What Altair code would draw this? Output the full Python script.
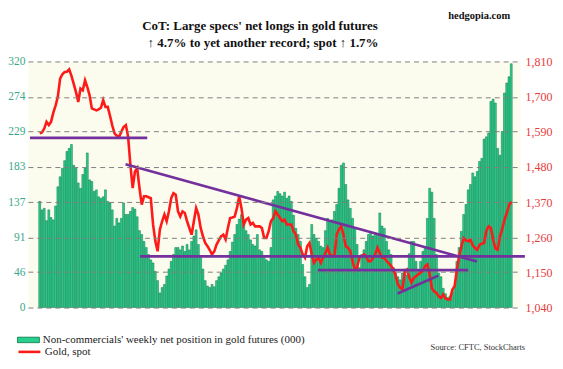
import altair as alt
import pandas as pd

# Non-commercials' weekly net position in gold futures (000), weekly from Jul 3, 2012
net_longs = [
    138, 127, 129, 113, 127, 117, 114, 132, 157, 170,
    181, 191, 203, 207, 212, 185, 181, 162, 155, 173,
    181, 201, 166, 164, 151, 153, 144, 142, 144, 153,
    138, 136, 127, 106, 116, 110, 116, 136, 121, 121,
    125, 130, 128, 118, 100, 95, 86, 78, 69, 62,
    58, 47, 35, 19, 26, 30, 41, 50, 60, 69,
    78, 78, 75, 80, 73, 82, 75, 86, 93, 101,
    82, 65, 50, 35, 28, 26, 30, 27, 35, 40,
    45, 50, 55, 62, 73, 85, 95, 108, 115, 121,
    112, 100, 95, 88, 82, 80, 95, 75, 73, 65,
    62, 60, 78, 140, 145, 151, 148, 145, 150, 142,
    145, 138, 120, 103, 95, 86, 56, 40, 26, 30,
    108, 95, 90, 86, 80, 78, 100, 116, 112, 114,
    125, 134, 155, 185, 188, 160, 140, 129, 116, 103,
    82, 52, 69, 75, 86, 95, 99, 93, 97, 95,
    123, 106, 103, 86, 75, 69, 52, 45, 40, 36,
    45, 50, 42, 70, 86, 86, 60, 47, 60, 73,
    78, 116, 155, 150, 116, 69, 45, 40, 25, 18,
    13, 15, 20, 28, 60, 78, 99, 121, 134, 153,
    160, 175, 170, 177, 190, 194, 219, 222, 227, 268,
    271, 266, 207, 198, 229, 279, 292, 300, 317,
]

# Gold, spot ($/oz), same weeks
gold_spot = [
    1585, 1588, 1600, 1621, 1611, 1621, 1650, 1672, 1700, 1756,
    1770, 1777, 1778, 1785, 1765, 1740, 1714, 1683, 1725, 1720,
    1751, 1730, 1704, 1663, 1660, 1657, 1660, 1665, 1689, 1668,
    1668, 1640, 1610, 1585, 1578, 1574, 1590, 1605, 1611, 1574,
    1486, 1414, 1465, 1476, 1414, 1362, 1388, 1388, 1385, 1382,
    1300, 1248, 1216, 1284, 1310, 1331, 1310, 1341, 1382, 1398,
    1393, 1341, 1325, 1341, 1336, 1310, 1289, 1268, 1310, 1351,
    1331, 1289, 1263, 1242, 1232, 1220, 1206, 1216, 1237, 1250,
    1263, 1268, 1253, 1289, 1320, 1322, 1325, 1351, 1388, 1351,
    1300, 1315, 1320, 1300, 1305, 1294, 1294, 1294, 1289, 1258,
    1258, 1279, 1310, 1320, 1341, 1331, 1320, 1310, 1315, 1300,
    1300, 1300, 1279, 1268, 1237, 1227, 1206, 1196, 1232, 1242,
    1206, 1180, 1190, 1196, 1180, 1196, 1210, 1227, 1206, 1201,
    1201, 1268, 1285, 1294, 1268, 1232, 1227, 1216, 1185, 1159,
    1164, 1196, 1200, 1206, 1201, 1185, 1185, 1195, 1206, 1227,
    1211, 1196, 1196, 1185, 1178, 1170, 1160, 1140, 1113, 1102,
    1097, 1150, 1158, 1135, 1118, 1133, 1138, 1144, 1150, 1154,
    1170, 1175, 1144, 1100, 1090, 1086, 1075, 1070, 1081, 1068,
    1065, 1065, 1096, 1107, 1158, 1200, 1231, 1257, 1250, 1247,
    1252, 1235, 1226, 1221, 1236, 1240, 1242, 1280, 1294, 1289,
    1252, 1225, 1221, 1262, 1285, 1314, 1335, 1360, 1371,
]

first_week = "2012-07-03"

left_ticks = [0, 46, 91, 137, 183, 229, 274, 320]
right_ticks = [1040, 1150, 1260, 1370, 1480, 1590, 1700, 1810]
x_tick_dates = [
    (2012, 7, 3), (2013, 1, 1), (2013, 7, 2), (2013, 12, 31), (2014, 7, 1),
    (2014, 12, 30), (2015, 6, 30), (2015, 12, 29), (2016, 6, 28),
]
x_domain_dates = [(2012, 6, 12), (2016, 7, 10)]

# Hand-drawn trend lines (in gold $ units)
trend_start = ["2012-06-03", "2013-03-25", "2013-05-09", "2014-11-09", "2015-07-13"]
trend_end = ["2013-05-31", "2016-03-14", "2016-08-09", "2016-02-16", "2015-11-16"]
trend_from = [1571, 1488, 1200, 1157, 1084]
trend_to = [1571, 1184, 1200, 1157, 1140]

title_lines = ["CoT: Large specs' net longs in gold futures",
               "\u2191 4.7% to yet another record; spot \u2191 1.7%"]
bar_label = "Non-commercials' weekly net position in gold futures (000)"
line_label = "Gold, spot"
site = "hedgopia.com"
source = "Source: CFTC, StockCharts"

SERIF = "Liberation Serif"
GREEN = "#27cf8c"
GREEN_EDGE = "#0b7347"
RED = "#ff1a1a"
PURPLE = "#74309c"

df = pd.DataFrame({
    "date": pd.date_range(first_week, periods=len(net_longs), freq="7D"),
    "net": net_longs,
    "gold": gold_spot,
    "s_bar": bar_label,
    "s_line": line_label,
})
trends = pd.DataFrame({
    "d1": pd.to_datetime(trend_start),
    "d2": pd.to_datetime(trend_end),
    "v1": trend_from,
    "v2": trend_to,
})

def dt(t):
    return alt.DateTime(year=t[0], month=t[1], date=t[2])

x_scale = alt.Scale(domain=[dt(d) for d in x_domain_dates])
gold_scale = alt.Scale(domain=[1040, 1810], nice=False, zero=False)
gold_axis = alt.Axis(orient="right", values=right_ticks, grid=False,
                     labelExpr="format(datum.value, ',')",
                     labelColor="#e63b3b", labelFontSize=12, labelPadding=5,
                     title=None, labelFont=SERIF)

bars = alt.Chart(df).mark_bar(width=1.9, stroke=GREEN_EDGE, strokeWidth=0.5).encode(
    x=alt.X("date:T", scale=x_scale,
            axis=alt.Axis(values=[dt(d) for d in x_tick_dates], format="%b-%y",
                          labelColor="#27335a", labelFontSize=12, labelPadding=5,
                          grid=False, title=None, labelFlush=False, labelFont=SERIF)),
    y=alt.Y("net:Q", scale=alt.Scale(domain=[0, 320], nice=False),
            axis=alt.Axis(orient="left", values=left_ticks, grid=True, gridDash=[5, 4],
                          gridColor="#7f7f7f", gridWidth=1, labelColor="#3aa987",
                          labelFontSize=11.5, labelPadding=3, title=None, zindex=1,
                          labelFont=SERIF)),
    fill=alt.Fill("s_bar:N", scale=alt.Scale(domain=[bar_label], range=[GREEN]),
                  legend=alt.Legend(orient="none", legendX=-11, legendY=268, title=None,
                                    symbolType="M-1,-0.25H1V0.25H-1Z", symbolSize=484,
                                    symbolStrokeColor=GREEN_EDGE, symbolStrokeWidth=0.8,
                                    labelFont=SERIF, labelFontSize=11, labelColor="#222",
                                    labelOffset=3, labelLimit=500, padding=0)),
)

gold_line = alt.Chart(df).mark_line(strokeWidth=2.6).encode(
    x=alt.X("date:T", scale=x_scale, axis=None),
    y=alt.Y("gold:Q", scale=gold_scale, axis=gold_axis),
    stroke=alt.Stroke("s_line:N", scale=alt.Scale(domain=[line_label], range=[RED]),
                      legend=alt.Legend(orient="none", legendX=-11, legendY=279, title=None,
                                        symbolType="stroke", symbolSize=484,
                                        symbolStrokeWidth=2.6,
                                        labelFont=SERIF, labelFontSize=11, labelColor="#222",
                                        labelOffset=3, labelLimit=500, padding=0)),
)

trend_rules = alt.Chart(trends).mark_rule(color=PURPLE, strokeWidth=2.6).encode(
    x=alt.X("d1:T", scale=x_scale, axis=None),
    x2="d2:T",
    y=alt.Y("v1:Q", scale=gold_scale, axis=gold_axis),
    y2="v2:Q",
)

gold_layer = alt.layer(gold_line, trend_rules)

def text_layer(txt, x, y, size, weight="normal", align="center", color="#111"):
    return alt.Chart(pd.DataFrame({"t": [txt]})).mark_text(
        font=SERIF, fontSize=size, fontWeight=weight, align=align,
        baseline="alphabetic", color=color,
    ).encode(x=alt.value(x), y=alt.value(y), text="t:N")

t1 = text_layer(title_lines[0], 233, -32, 13, "bold")
t2 = text_layer(title_lines[1], 236, -14.5, 13, "bold")
t3 = text_layer(site, 484, -42.5, 10.5, "bold", "right")
t4 = text_layer(source, 499, 290, 8.5, "normal", "right", "#333")

chart = alt.layer(bars, gold_layer, t1, t2, t3, t4).resolve_scale(
    y="independent", fill="independent", stroke="independent"
).properties(
    width=494, height=247,
    autosize=alt.AutoSizeParams(type="none"),
    padding={"left": 20, "top": 53, "right": 35, "bottom": 52},
).configure_view(fill="#fcfcee", stroke="transparent").configure_axis(
    domain=False, ticks=False
)

chart.save("out.html", embed_options={"renderer": "svg", "actions": False})
